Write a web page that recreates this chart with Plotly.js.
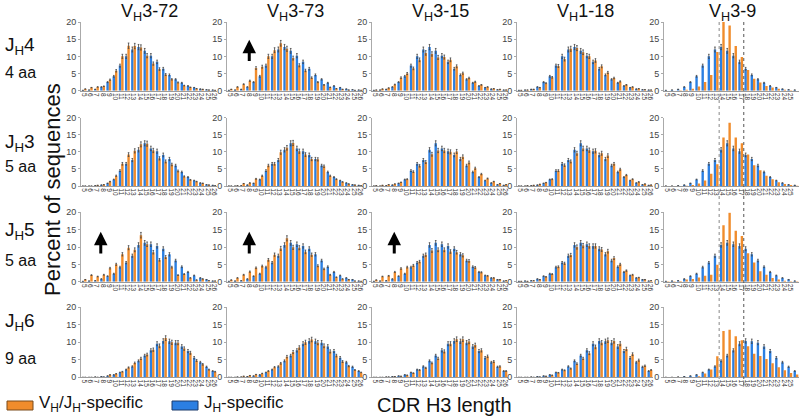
<!DOCTYPE html>
<html><head><meta charset="utf-8">
<script src="https://cdn.plot.ly/plotly-3.0.1.min.js"></script>
<style>body{margin:0;padding:0;background:#fff}#chart{width:799px;height:420px}</style>
</head><body><div id="chart"></div>
<script>
// CDR H3 lengths (categories)
var lengths = [5,6,7,8,9,10,11,12,13,14,15,16,17,18,19,20,21,22,23,24,25,26];
var columnLabels = ['V<sub>H</sub>3-72','V<sub>H</sub>3-73','V<sub>H</sub>3-15','V<sub>H</sub>1-18','V<sub>H</sub>3-9'];
var rowLabels = ['J<sub>H</sub>4','J<sub>H</sub>3','J<sub>H</sub>5','J<sub>H</sub>6'];
var rowSubLabels = ['4 aa','5 aa','5 aa','9 aa'];

// JH-specific (blue), one per JH row
var blueJH4 = [0.1,0.2,0.4,1.1,2.5,4.2,7.3,10,12,12.7,11.6,10.2,8.4,6.4,4.6,3.3,2.3,1.4,0.9,0.5,0.3,0.2];
var blueJH3 = [0,0,0.1,0.3,0.8,1.9,4.5,6.5,7.6,10.6,12.5,11,10.2,9.1,7.9,6,4.1,2.6,1.6,0.9,0.4,0.2];
var blueJH5 = [0.1,0.2,0.3,0.8,1.6,2.3,4.2,5.5,7.5,10.6,11.2,10.8,10.3,9.5,7.9,6.1,4.3,2.8,1.8,1.1,0.6,0.2];
var blueJH6 = [0,0,0.1,0.2,0.4,0.7,1.4,2.2,3.1,4.7,6.2,7.7,9.6,10.4,10.3,9.9,8.8,7.5,5.6,4.3,3,1.8];

// VH/JH-specific (orange)
var orVH3_72_JH4 = [0.5,0.9,1.1,1.3,3.2,5.8,10,13.1,13,12.6,10.2,7.9,6.3,4.7,3.3,2.4,1.5,1,0.6,0.4,0.2,0.1];
var orVH3_73_JH4 = [0.4,1.1,1.9,2.9,6.6,7,10,11.8,13.8,12.2,9.5,7.4,5.9,3.8,2.5,1.7,1,0.6,0.4,0.2,0.1,0.1];
var orVH3_15_JH4 = [0.2,0.5,0.8,1.8,3.8,5,6.5,9,11,10.7,9.7,9.8,9,7.1,5.1,3.7,2.6,1.7,1.1,0.6,0.4,0.2];
var orVH1_18_JH4 = [0.1,0.2,0.4,0.9,2.2,3.9,7.2,9.2,12.2,12.4,11.2,10,8.8,7.1,5.3,3.7,2.7,1.7,1.1,0.6,0.3,0.2];
var orVH3_9_JH4  = [0,0,0.1,0.3,0.6,1.2,2.5,4.6,11.3,20,19,13,9.8,6,3.5,2.4,1.4,0.9,0.6,0.3,0.1,0];

var orVH3_72_JH3 = [0,0,0.2,0.4,1.3,3,6.5,9.2,10.3,12.2,12.4,10.4,8.1,7.2,6.3,4.4,2.8,1.8,1.3,0.8,0.3,0.1];
var orVH3_73_JH3 = [0,0.1,0.7,0.9,2.1,3,6,6.5,9.9,11.2,12.6,10.2,9.2,7.9,7.8,5.8,3,2,1.2,0.6,0.3,0.1];
var orVH3_15_JH3 = [0.1,0.2,0.4,0.6,1.1,2,4.2,5.9,7,9.3,10.4,10.4,10,10.1,8.6,6.9,5.2,3.5,2.2,1.3,0.7,0.4];
var orVH1_18_JH3 = [0,0.1,0.2,0.5,1,2,4.5,6.1,7.2,9.6,11,10.5,10.3,9.6,8.9,6.5,4.9,3.2,2,1.2,0.6,0.3];
var orVH3_9_JH3  = [0,0,0,0.1,0.3,0.7,1.6,3.6,6.4,14.2,18.5,14.2,12.5,9.2,6.1,4.6,3,2,1.1,0.6,0.3,0.1];

var orVH3_72_JH5 = [0.6,1.9,1.5,2,3.9,5,7.9,9.8,9.2,13.4,10.8,8.5,6.3,7.1,4.2,1.9,2.2,1.1,0.5,0.8,0.3,0.2];
var orVH3_73_JH5 = [0.5,1.1,2,2.9,4,4.5,6.3,7.8,9.6,12.5,9.9,9.8,8.6,7.8,4.6,3.7,2,1.3,0.8,0.6,0.2,0.1];
var orVH3_15_JH5 = [0.5,1.5,1.7,2.8,3.8,4.2,4.7,5.8,7.8,9,9.2,9.2,8.7,8.5,7.6,6,4.1,2.7,1.7,1.1,0.6,0.3];
var orVH1_18_JH5 = [0.1,0.1,0.3,0.6,1.4,2.2,4.3,5.3,7.7,10,10.4,10.3,10.3,9.3,8.8,6.8,5,3.2,2,1.2,0.6,0.3];
var orVH3_9_JH5  = [0.1,0.1,0.2,0.6,0.8,1.2,1.7,2,4.9,16.3,19.9,14.7,13.2,8.2,5.5,3,2,1.1,0.6,0.3,0.1,0.1];

var orVH3_72_JH6 = [0,0,0,0.1,0.7,1,1.6,2.8,4.1,5.4,6.5,7.9,9,11.2,10,9.9,8.2,7,4.8,3.7,2.2,1.6];
var orVH3_73_JH6 = [0,0.1,0.3,0.5,0.8,1.1,1.8,2.9,4,5.9,7.2,8.5,10,10.8,9.9,9,7.4,6.2,4.5,3.2,2.1,1.4];
var orVH3_15_JH6 = [0,0,0.1,0.2,0.3,0.6,1.2,2.1,2.7,4.1,5.4,7.4,9.6,10.9,10.9,10.2,9.2,7.7,6,4.5,3.1,1.8];
var orVH1_18_JH6 = [0,0,0,0.1,0.3,0.6,1.3,2,2.5,3.9,5.4,6.9,8.7,9.9,10.6,10.4,9.6,8.1,6.6,4.9,3.3,2.1];
var orVH3_9_JH6  = [0,0,0,0,0.1,0.3,1.1,2.2,6,13.2,13.6,11.7,10.6,8.9,6.7,6.1,5.2,4,2.9,2,1.2,0.8];

var blueRows = [blueJH4, blueJH3, blueJH5, blueJH6];
var orangeRows = [
  [orVH3_72_JH4, orVH3_73_JH4, orVH3_15_JH4, orVH1_18_JH4, orVH3_9_JH4],
  [orVH3_72_JH3, orVH3_73_JH3, orVH3_15_JH3, orVH1_18_JH3, orVH3_9_JH3],
  [orVH3_72_JH5, orVH3_73_JH5, orVH3_15_JH5, orVH1_18_JH5, orVH3_9_JH5],
  [orVH3_72_JH6, orVH3_73_JH6, orVH3_15_JH6, orVH1_18_JH6, orVH3_9_JH6]
];
// arrows: [row, col, x, yTail, yTip]
var arrowMarks = [[0,1,8.1,8.2,14.8],[2,0,7.7,7.7,14.4],[2,1,8.1,7.7,14.4],[2,2,8.1,7.7,14.4]];
var dividerLengths = [13.5, 17.5];

var BLUE = '#2B7FE2', ORANGE = '#F08C2C';
var FONT = 'Liberation Sans, Arial, sans-serif';
var W = 799, H = 420;
var colLeft = [81, 227, 372, 517, 664];
var colWidth = 136;
var rowTop = [22, 117.7, 212.3, 307.3];
var rowBottom = [90.7, 186, 281.7, 377.3];

var data = [], layout = {
  width: W, height: H, margin: {l:0,r:0,t:0,b:0},
  paper_bgcolor: '#fff', plot_bgcolor: 'rgba(0,0,0,0)',
  showlegend: false, barmode: 'group', bargap: 0.22, bargroupgap: 0,
  font: {family: FONT, color: '#222'},
  annotations: [], shapes: []
};
var tickText = lengths.map(String);
for (var r = 0; r < 4; r++) {
  for (var c = 0; c < 5; c++) {
    var p = r*5 + c + 1;
    var xa = 'x' + p, ya = 'y' + p;
    var err = {type:'percent', value: 6, color:'#444', thickness:0.8, width:0.8};
    data.push({type:'bar', x: lengths, y: blueRows[r], xaxis: xa, yaxis: ya,
      marker:{color: BLUE}, error_y: err, name:'J<sub>H</sub>-specific'});
    data.push({type:'bar', x: lengths, y: orangeRows[r][c], xaxis: xa, yaxis: ya,
      marker:{color: ORANGE}, error_y: (c===4? {visible:false}: err), name:'V<sub>H</sub>/J<sub>H</sub>-specific'});
    var x0 = colLeft[c]/W, x1 = Math.min(1, (colLeft[c]+colWidth)/W);
    layout['xaxis' + (p===1?'':p)] = {
      domain: [x0, x1], anchor: ya, range: [4.5, 26.5],
      tickmode:'array', tickvals: lengths, ticktext: tickText, tickangle: 90,
      tickfont: {size: 6.5, color:'#333', family: FONT}, ticks:'', ticklen:0,
      showline: true, linecolor:'#9a9a9a', linewidth:1, showgrid:false, zeroline:false, fixedrange:true
    };
    layout['yaxis' + (p===1?'':p)] = {
      domain: [1 - rowBottom[r]/H, 1 - rowTop[r]/H], anchor: xa, range: [0, 20],
      tickvals: [0,5,10,15,20], tickfont:{size:9, color:'#444', family: FONT},
      ticks:'outside', ticklen:2, tickcolor:'#aaa',
      showline: true, linecolor:'#aaa', linewidth:1, showgrid:false, zeroline:false, fixedrange:true
    };
  }
}
// column titles
for (var c2 = 0; c2 < 5; c2++) {
  layout.annotations.push({xref:'paper', yref:'paper', x: (colLeft[c2]+colWidth/2)/W, y: 1 - 12/H,
    text: columnLabels[c2], showarrow:false, font:{size:18, color:'#111', family: FONT}, xanchor:'center', yanchor:'middle'});
}
// row labels
var rowLabelY = [46, 143, 231, 322], rowSubY = [72, 167, 260, 358];
for (var r2 = 0; r2 < 4; r2++) {
  layout.annotations.push({xref:'paper', yref:'paper', x: 3/W, y: 1 - rowLabelY[r2]/H,
    text: rowLabels[r2], showarrow:false, font:{size:19, color:'#111', family: FONT}, xanchor:'left', yanchor:'middle'});
  layout.annotations.push({xref:'paper', yref:'paper', x: 3/W, y: 1 - rowSubY[r2]/H,
    text: rowSubLabels[r2], showarrow:false, font:{size:16, color:'#111', family: FONT}, xanchor:'left', yanchor:'middle'});
}
layout.annotations.push({xref:'paper', yref:'paper', x: 53/W, y: 1 - 190/H, text:'Percent of sequences',
  textangle:-90, showarrow:false, font:{size:22, color:'#111', family: FONT}, xanchor:'center', yanchor:'middle'});
layout.annotations.push({xref:'paper', yref:'paper', x: 444/W, y: 1 - 405/H, text:'CDR H3 length',
  showarrow:false, font:{size:20, color:'#111', family: FONT}, xanchor:'center', yanchor:'middle'});
// legend
layout.shapes.push({type:'rect', xref:'paper', yref:'paper', x0: 7/W, x1: 33/W, y0: 1-410/H, y1: 1-401/H,
  fillcolor: ORANGE, line:{color:'#7a4a1a', width:1}});
layout.shapes.push({type:'rect', xref:'paper', yref:'paper', x0: 172/W, x1: 198/W, y0: 1-410/H, y1: 1-401/H,
  fillcolor: BLUE, line:{color:'#1a3a6a', width:1}});
layout.annotations.push({xref:'paper', yref:'paper', x: 37/W, y: 1 - 404/H, text:'V<sub>H</sub>/J<sub>H</sub>-specific',
  showarrow:false, font:{size:17, color:'#111', family: FONT}, xanchor:'left', yanchor:'middle'});
layout.annotations.push({xref:'paper', yref:'paper', x: 202/W, y: 1 - 404/H, text:'J<sub>H</sub>-specific',
  showarrow:false, font:{size:17, color:'#111', family: FONT}, xanchor:'left', yanchor:'middle'});
// arrows
arrowMarks.forEach(function(a){
  var p = a[0]*5 + a[1] + 1;
  layout.annotations.push({xref:'x'+p, yref:'y'+p, axref:'x'+p, ayref:'y'+p,
    x: a[2], y: a[4], ax: a[2], ay: a[3], text:'', showarrow:true,
    arrowhead:2, arrowsize:0.9, arrowwidth:3, arrowcolor:'#000'});
});
// dotted divider lines in last column
dividerLengths.forEach(function(v, i){
  layout.shapes.push({type:'line', xref:'x5', yref:'paper', x0: v, x1: v, y0: 1-385/H, y1: 1-20/H,
    line:{color: i===0 ? '#b0b0b0' : '#555', width: i===0 ? 1.5 : 1, dash:'dot'}});
});
Plotly.newPlot('chart', data, layout, {displayModeBar:false, staticPlot:true});
</script></body></html>
